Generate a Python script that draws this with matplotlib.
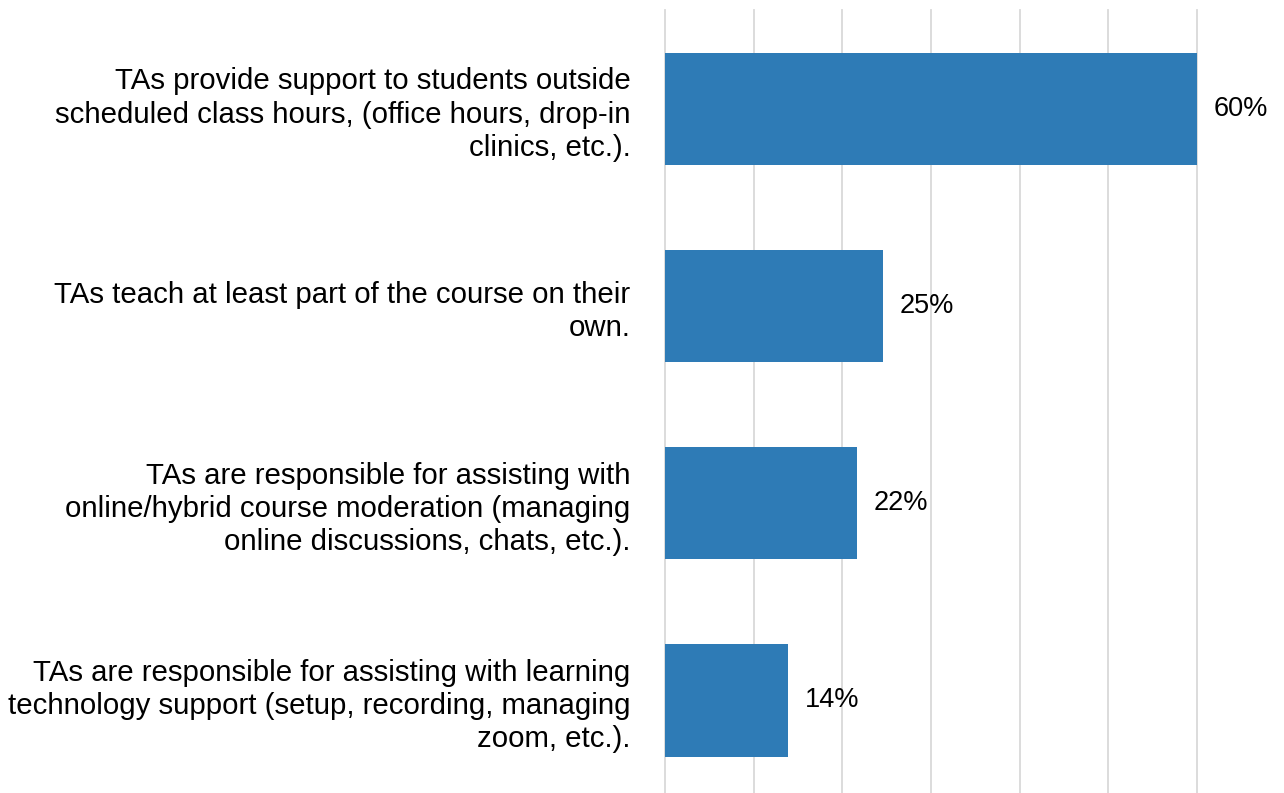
import matplotlib
matplotlib.use("Agg")
import matplotlib.pyplot as plt

CATEGORIES = [
    "TAs provide support to students outside\nscheduled class hours, (office hours, drop-in\nclinics, etc.).",
    "TAs teach at least part of the course on their\nown.",
    "TAs are responsible for assisting with\nonline/hybrid course moderation (managing\nonline discussions, chats, etc.).",
    "TAs are responsible for assisting with learning\ntechnology support (setup, recording, managing\nzoom, etc.).",
]
VALUES = [0.600, 0.246, 0.216, 0.139]
LABELS = ["60%", "25%", "22%", "14%"]

BAR_COLOR = "#2E7BB6"
GRID_COLOR = "#D9D9D9"

plt.rcParams["font.family"] = ["Liberation Sans", "DejaVu Sans"]

fig = plt.figure(figsize=(12.84, 7.93), dpi=100)
ax = fig.add_axes([665 / 1284, 0.0, (1197 - 665) / 1284, 1 - 10 / 793])

pos = list(range(len(CATEGORIES)))
ax.barh(pos, VALUES, height=0.57, color=BAR_COLOR, zorder=3)

ax.set_xlim(0, 0.6)
ax.set_ylim(3.47, -0.503)
ax.set_xticks([i / 10 for i in range(7)])
ax.tick_params(axis="x", length=0, labelbottom=False)
ax.grid(axis="x", color=GRID_COLOR, linewidth=1.3, zorder=0)
for gl in ax.get_xgridlines():
    gl.set_clip_on(False)
ax.grid(axis="y", visible=False)
for s in ax.spines.values():
    s.set_visible(False)

ax.set_yticks(pos)
ax.set_yticklabels(CATEGORIES, fontsize=21.2, linespacing=1.24, ha="right")
ax.tick_params(axis="y", length=0, pad=25)

for p, v, lab in zip(pos, VALUES, LABELS):
    ax.annotate(lab, (v, p), xytext=(17, 0), textcoords="offset pixels",
                va="center", ha="left", fontsize=19.5, color="#000000", annotation_clip=False)

fig.savefig("out.png", dpi=100)
